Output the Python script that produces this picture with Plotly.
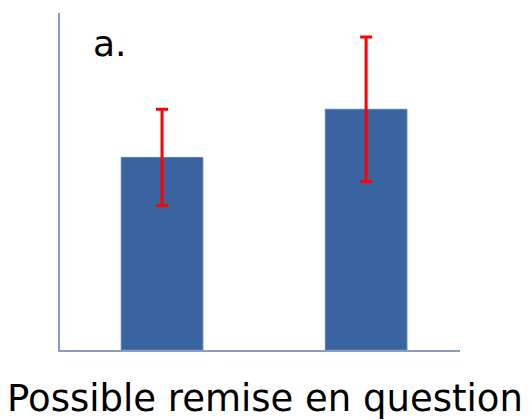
import plotly.graph_objects as go

categories = [0, 1]
values = [4.0, 5.0]
errors = [1.0, 1.5]
panel_label = "a."
x_title = "Possible remise en question"

fig = go.Figure()
fig.add_trace(go.Bar(
    x=categories, y=values, width=0.4,
    marker=dict(color="#3A64A0", line=dict(color="#5A7FB5", width=1)),
    error_y=dict(type="data", array=errors, visible=True,
                 color="#FF0000", thickness=3, width=6),
))

fig.update_layout(
    width=532, height=420,
    margin=dict(l=52, r=80, t=5, b=78),
    paper_bgcolor="white", plot_bgcolor="white",
    showlegend=False,
    xaxis=dict(range=[-0.5, 1.46], showgrid=False, zeroline=False,
               showticklabels=False, ticks="", showline=True,
               linecolor="#8C9CC0", linewidth=2),
    yaxis=dict(range=[0, 7], showgrid=False, zeroline=False,
               showticklabels=False, ticks="", showline=True,
               linecolor="#8C9CC0", linewidth=2),
    annotations=[
        dict(text=panel_label, xref="paper", yref="paper",
             x=(91 - 60) / 400, y=1 - (21 - 13) / 337, xanchor="left", yanchor="top",
             showarrow=False, font=dict(family="DejaVu Sans", size=36, color="black")),
        dict(text=x_title, xref="paper", yref="paper",
             x=(265 - 60) / 400, y=-(375 - 350) / 337, xanchor="center", yanchor="top",
             showarrow=False, font=dict(family="DejaVu Sans", size=37, color="black")),
    ],
)

fig.write_html("out.html")
